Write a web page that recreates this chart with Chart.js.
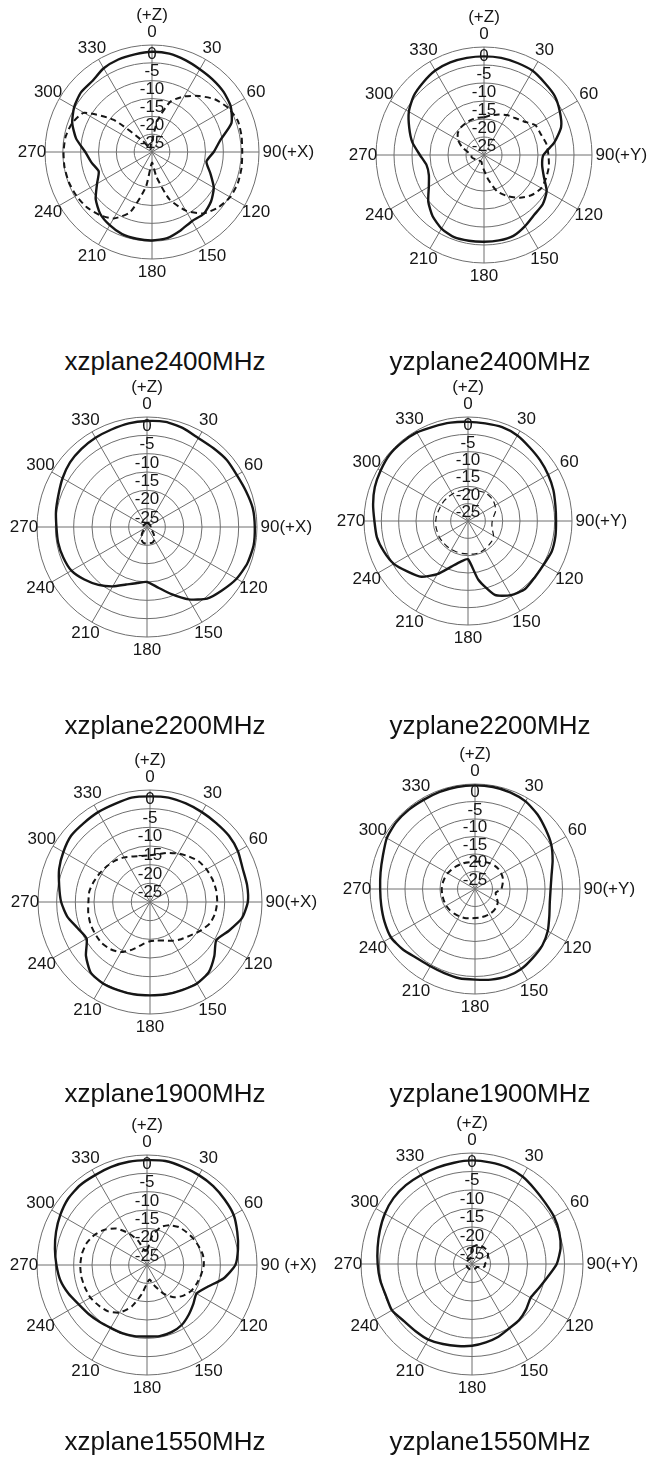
<!DOCTYPE html>
<html>
<head>
<meta charset="utf-8">
<script src="https://cdn.jsdelivr.net/npm/chart.js@4.4.0/dist/chart.umd.min.js"></script>
<style>
  body { margin: 0; background: #fff; }
  #page { position: relative; width: 660px; height: 1476px; overflow: hidden; }
  .plot { position: absolute; }
  .title {
    position: absolute;
    font-family: "Liberation Sans", Arial, sans-serif;
    font-size: 26px;
    line-height: 26px;
    color: #111;
    white-space: nowrap;
    transform: translateX(-50%);
  }
</style>
</head>
<body>
<div id="page"></div>
<script>
// angle of each sample, degrees (0 = +Z, clockwise)
const angles = [0, 10, 20, 30, 40, 50, 60, 70, 80, 90, 100, 110, 120, 130, 140, 150, 160, 170,
                180, 190, 200, 210, 220, 230, 240, 250, 260, 270, 280, 290, 300, 310, 320, 330, 340, 350];

// radial axis, dB
const dbMin = -30;
const dbMax = 0;
const dbStep = 5;

// gain in dB, solid and dashed traces
const xz2400Solid = [-1.9, -2.0, -2.6, -3.2, -3.5, -3.8, -4.5, -6.3, -10.5, -12.7, -14.5, -12.6, -10.0, -8.4, -7.4, -7.6, -6.6, -5.5,
                     -5.2, -5.3, -5.5, -6.3, -7.4, -9.4, -12.2, -14.1, -12.8, -11.3, -8.4, -6.2, -4.8, -4.0, -4.0, -2.9, -2.4, -2.2];
const xz2400Dashed = [-27, -21, -15, -12, -9.5, -7, -5.3, -4.4, -4.5, -4.7, -4.5, -4.4, -4.7, -5.8, -7.5, -11, -16, -23,
                      -27, -20, -12, -8.5, -7, -6, -5.5, -5.2, -5.1, -5.2, -5.4, -6.2, -8, -16, -26, -29, -29, -28];

const yz2400Solid = [-2.6, -2.6, -2.8, -3.0, -3.8, -4.4, -5.7, -7.2, -10.2, -13.5, -13.6, -12.3, -9.9, -8.7, -8.3, -7.2, -6.1, -5.9,
                     -5.9, -5.8, -5.7, -6.4, -7.8, -9.8, -12.3, -13.7, -13.8, -12.2, -9.8, -7.9, -5.9, -4.5, -3.7, -2.9, -2.6, -2.6];
const yz2400Dashed = [-19.5, -18.8, -18, -17.2, -16.6, -15.5, -13.5, -13.2, -12.4, -12.1, -11.7, -11.6, -11.6, -12.7, -14.5, -16.8, -19.2, -23,
                      -25.8, -27, -28, -28, -28, -28, -27.5, -27, -26.5, -26.5, -25.5, -23.5, -21.7, -20.5, -20, -19.8, -19.6, -19.5];

const xz2200Solid = [-1.1, -0.9, -1.3, -2.0, -1.9, -1.6, -1.7, -1.3, -0.7, -0.6, -0.5, -0.9, -1.8, -3.2, -4.5, -7.2, -10.5, -13.3,
                     -15.0, -14.5, -13.3, -11.3, -9.4, -7.7, -6.2, -5.7, -5.4, -5.3, -4.8, -4.3, -3.4, -2.6, -2.2, -1.9, -1.7, -1.3];
const xz2200Dashed = [-29, -29, -29, -29, -29, -29, -29, -29, -29, -29, -29, -29, -29, -28, -27, -26, -25.5, -25.5,
                      -25.5, -25.5, -26, -27, -28, -29, -29, -29, -29, -29, -29, -29, -29, -29, -29, -29, -29, -29];

const yz2200Solid = [-1.4, -1.4, -1.2, -1.5, -2.3, -2.8, -3.3, -3.8, -4.4, -4.6, -4.4, -4.3, -4.8, -4.8, -4.4, -5.3, -7.3, -12.8,
                     -19.0, -18.1, -16.0, -12.3, -9.0, -7.3, -5.3, -4.2, -3.3, -3.0, -2.2, -1.4, -0.9, -0.4, -0.4, -0.5, -1.0, -1.2];
const yz2200Dashed = [-21, -21, -20.8, -20.5, -20.5, -20.6, -21, -21.5, -22.5, -23, -23, -22.5, -21.5, -21, -20.8, -20.5, -20.3, -20.3,
                      -20.5, -20.5, -20.5, -20.5, -20.5, -20.5, -20.5, -20.6, -20.6, -20.7, -20.8, -21, -21, -21, -21, -21, -21, -21];

const xz1900Solid = [-1.7, -1.6, -1.9, -2.2, -2.4, -2.4, -2.8, -3.6, -3.6, -3.8, -5.0, -7.5, -9.5, -7.5, -5.5, -4.8, -4.9, -4.9,
                     -5.0, -4.9, -4.9, -4.8, -5.3, -7.6, -10.4, -9.4, -7.5, -6.2, -5.3, -4.1, -3.2, -2.4, -2.4, -2.2, -2.1, -1.6];
const xz1900Dashed = [-17.5, -17, -16, -15, -14, -13, -12.5, -12.2, -12, -12, -12.3, -13, -14.5, -16, -17, -18, -19, -19.5,
                      -19.5, -18.5, -16.5, -14.5, -13.5, -13, -13, -13, -13.2, -13.5, -13.5, -14, -14.5, -15, -15.5, -16.2, -17, -17.5];

const yz1900Solid = [-0.4, -0.4, -0.6, -1.1, -2.2, -3.6, -4.8, -6.4, -7.8, -8.4, -8.3, -7.4, -6.0, -4.9, -4.3, -3.6, -3.4, -3.7,
                     -4.1, -4.1, -4.4, -4.5, -4.2, -3.1, -2.3, -2.5, -2.8, -2.9, -2.6, -2.0, -0.9, -0.5, -0.5, -0.6, -0.5, -0.4];
const yz1900Dashed = [-22.2, -22, -21.8, -21.5, -21.3, -21.2, -21.3, -21.5, -22, -22.5, -24, -23.5, -22.5, -22, -21.8, -21.7, -21.7, -21.7,
                      -21.7, -21.5, -21.2, -21, -20.8, -20.6, -20.5, -20.5, -20.5, -20.5, -20.6, -20.8, -21, -21.3, -21.6, -21.8, -22, -22.2];

const xz1550Solid = [-1.4, -1.2, -1.5, -1.7, -1.9, -2.3, -2.7, -3.8, -4.8, -5.9, -8.8, -12.5, -14.4, -13.5, -12.3, -11.1, -10.5, -10.3,
                     -10.5, -10.3, -10.2, -10.2, -9.8, -9.2, -8.5, -7.2, -6.0, -5.3, -4.5, -3.6, -2.7, -1.9, -1.6, -1.7, -1.5, -1.4];
const xz1550Dashed = [-26, -22, -19, -17.5, -16.5, -16, -15.5, -15, -14.5, -14.5, -15, -15.5, -16, -17, -18.5, -21, -24, -26,
                      -25, -22, -18, -15, -13.5, -12.8, -12.2, -12, -11.8, -11.8, -12, -12.5, -13.5, -15, -17, -20, -23, -26];

const yz1550Solid = [-2.0, -2.1, -2.2, -2.7, -3.6, -4.2, -4.4, -4.9, -5.7, -7.1, -9.3, -10.8, -11.7, -10.9, -10.2, -9.9, -9.1, -8.5,
                     -7.9, -7.5, -7.0, -6.4, -6.3, -6.0, -5.0, -5.2, -4.8, -4.5, -4.1, -3.5, -2.8, -2.3, -2.2, -2.3, -2.3, -2.2];
const yz1550Dashed = [-25.5, -25, -24.5, -24.5, -24.5, -24.5, -25, -25.5, -26, -26.5, -26.5, -27, -28.5, -28.5, -28.5, -28.5, -28.5, -28.5,
                      -28.5, -28.5, -28.5, -28.5, -28.5, -28.5, -28.5, -28.5, -28.5, -28.5, -28.5, -28.5, -28.5, -28.5, -28.5, -28.5, -28.5, -28];

const FONT = '"Liberation Sans", Arial, sans-serif';
const GRID = '#6e6e6e';
const INK = '#161616';

// layout: centre and outer radius of each polar plot on the page
const panels = [
  { title: 'xzplane2400MHz', solid: xz2400Solid, dashed: xz2400Dashed, side: '90(+X)',  cx: 152, cy: 152,  R: 107, dashW: 2 },
  { title: 'yzplane2400MHz', solid: yz2400Solid, dashed: yz2400Dashed, side: '90(+Y)',  cx: 484, cy: 155,  R: 108, dashW: 2 },
  { title: 'xzplane2200MHz', solid: xz2200Solid, dashed: xz2200Dashed, side: '90(+X)',  cx: 147, cy: 527,  R: 110, dashW: 2 },
  { title: 'yzplane2200MHz', solid: yz2200Solid, dashed: yz2200Dashed, side: '90(+Y)',  cx: 468, cy: 521,  R: 104, dashW: 1.2 },
  { title: 'xzplane1900MHz', solid: xz1900Solid, dashed: xz1900Dashed, side: '90(+X)',  cx: 150, cy: 902,  R: 112, dashW: 2 },
  { title: 'yzplane1900MHz', solid: yz1900Solid, dashed: yz1900Dashed, side: '90(+Y)',  cx: 475, cy: 889,  R: 105, dashW: 2 },
  { title: 'xzplane1550MHz', solid: xz1550Solid, dashed: xz1550Dashed, side: '90 (+X)', cx: 147, cy: 1265, R: 110, dashW: 2 },
  { title: 'yzplane1550MHz', solid: yz1550Solid, dashed: yz1550Dashed, side: '90(+Y)',  cx: 472, cy: 1264, R: 111, dashW: 2 }
];
const titleX = [165, 490];
const titleBaseline = [370, 734, 1102, 1450];

// angle labels centred just outside the outer ring, every 30 degrees
const angleLabels = {
  id: 'angleLabels',
  afterDatasetsDraw(chart, args, opts) {
    const s = chart.scales.r;
    const ctx = chart.ctx;
    ctx.save();
    ctx.font = opts.size + 'px ' + FONT;
    ctx.fillStyle = INK;
    ctx.textBaseline = 'middle';
    ctx.textAlign = 'left';
    chart.data.labels.forEach((deg, i) => {
      if (deg % 30 !== 0) return;
      const pos = s.getPointPosition(i, s.drawingArea + opts.gap);
      const num = String(deg);
      const w = ctx.measureText(num).width;
      ctx.fillText(deg === 90 ? opts.side : num, pos.x - w / 2, pos.y);
      if (deg === 0) {
        ctx.textAlign = 'center';
        ctx.fillText('(+Z)', pos.x, pos.y - opts.lineGap);
        ctx.textAlign = 'left';
      }
    });
    ctx.restore();
  }
};

const page = document.getElementById('page');

function makeConfig(p) {
  const halfRing = p.R * dbStep / (dbMax - dbMin) / 2;
  return {
    type: 'radar',
    data: {
      labels: angles,
      datasets: [
        { data: p.solid, borderColor: INK, borderWidth: 2.4, pointRadius: 0, fill: false, tension: 0.2 },
        { data: p.dashed, borderColor: INK, borderWidth: p.dashW, borderDash: [6, 4], pointRadius: 0, fill: false, tension: 0.2 }
      ]
    },
    plugins: [angleLabels],
    options: {
      responsive: false,
      animation: false,
      events: [],
      layout: { padding: 62 },
      plugins: {
        legend: { display: false },
        tooltip: { enabled: false },
        angleLabels: { size: 17, gap: 13, lineGap: 17, side: p.side }
      },
      scales: {
        r: {
          min: dbMin,
          max: dbMax,
          ticks: {
            stepSize: dbStep,
            color: INK,
            showLabelBackdrop: false,
            // empty first line pushes the number half a ring inwards
            font: { family: FONT, size: 17, lineHeight: halfRing + 'px' },
            callback: v => v === dbMin ? '' : ['', String(v)]
          },
          grid: { circular: true, color: GRID, lineWidth: 1 },
          angleLines: { color: c => c.index % 3 === 0 ? GRID : 'rgba(0,0,0,0)', lineWidth: 1 },
          pointLabels: { display: false }
        }
      }
    }
  };
}

panels.forEach((p, k) => {
  const wrap = document.createElement('div');
  wrap.className = 'plot';
  const canvas = document.createElement('canvas');
  wrap.appendChild(canvas);
  page.appendChild(wrap);

  let size = Math.round(2 * p.R + 150);
  let chart;
  for (let t = 0; t < 4; t++) {
    canvas.width = size;
    canvas.height = size;
    chart = new Chart(canvas, makeConfig(p));
    const diff = p.R - chart.scales.r.drawingArea;
    if (Math.abs(diff) < 0.6) break;
    chart.destroy();
    size = Math.round(size + 2 * diff);
  }
  const s = chart.scales.r;
  wrap.style.left = (p.cx - s.xCenter) + 'px';
  wrap.style.top = (p.cy - s.yCenter) + 'px';

  const t = document.createElement('div');
  t.className = 'title';
  t.textContent = p.title;
  t.style.left = titleX[k % 2] + 'px';
  t.style.top = (titleBaseline[Math.floor(k / 2)] - 22) + 'px';
  page.appendChild(t);
});
</script>
</body>
</html>
